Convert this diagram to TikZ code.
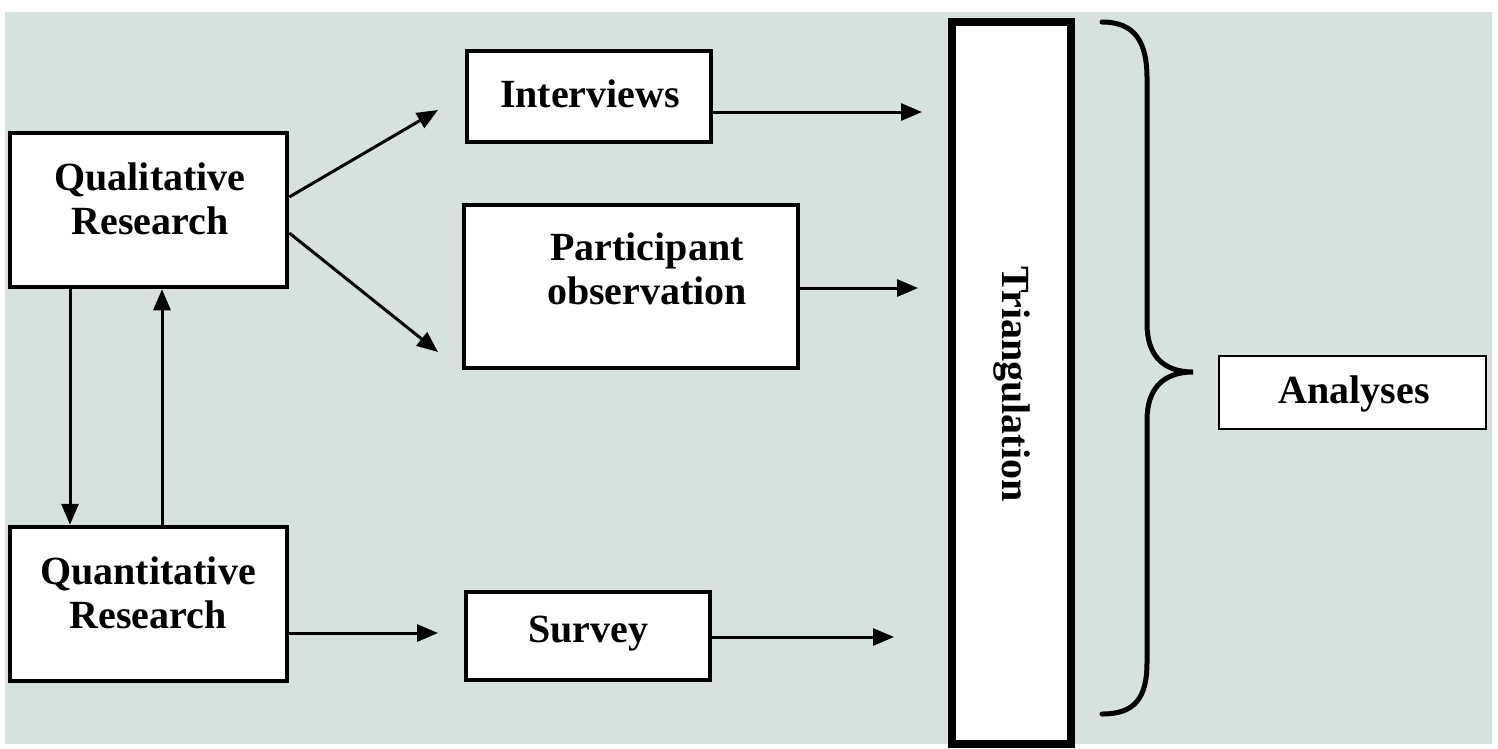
\documentclass[tikz,border=0pt]{standalone}
\usepackage{fontspec}
\setmainfont{Liberation Serif}
\usetikzlibrary{arrows.meta,calc}
\definecolor{bgc}{RGB}{214,227,221}
\begin{document}
\begin{tikzpicture}[x=1pt,y=-1pt,
  box/.style={draw=black,fill=white,rectangle,inner sep=0pt,line width=4.5pt},
  lbl/.style={font=\fontsize{40}{44}\selectfont\bfseries,align=center,inner sep=0pt},
  arr/.style={line width=3pt,-{Triangle[length=21pt,width=17pt]}}]
\useasboundingbox (0,0) rectangle (1498,748);
\fill[white] (0,0) rectangle (1498,748);
\fill[bgc] (5,12) rectangle (1492,744);
% boxes
\node[box,minimum width=277pt,minimum height=154pt] (qual) at (148.5,210) {};
\node[box,minimum width=277pt,minimum height=154pt] (quant) at (148.5,604) {};
\node[box,minimum width=244pt,minimum height=91pt] (intv) at (589,96.5) {};
\node[box,minimum width=334pt,minimum height=163pt] (part) at (631,286.5) {};
\node[box,minimum width=244pt,minimum height=88pt] (surv) at (588,636) {};
\node[box,line width=8pt,minimum width=119pt,minimum height=722pt] (tri) at (1011.5,383) {};
\node[box,line width=2.5pt,minimum width=267pt,minimum height=73pt] (ana) at (1352.5,392.5) {};
% texts
\node[lbl] (qualt) at (150,199) {Qualitative\\Research};
\node[lbl] (quantt) at (148,593) {Quantitative\\Research};
\node[lbl] (intvt) at (590,94) {Interviews};
\node[lbl] (partt) at (647,269) {Participant\\observation};
\node[lbl] (survt) at (588,634) {Survey};
\node[lbl] (anat) at (1354,394) {Analyses};
\node[lbl,rotate=-90] (trit) at (1012,384) {Triangulation};
% free ends
\coordinate (a1) at (438,110);
\coordinate (a2) at (438,352);
\coordinate (t1) at (922,112);
\coordinate (t2) at (918,288);
\coordinate (s1) at (438,633);
\coordinate (s2) at (894,637);
\coordinate (dx) at (70,0);
\coordinate (ux) at (162,0);
% connectors
\draw[arr] ([yshift=13pt]qual.east) -- (a1);
\draw[arr] ([yshift=-23pt]qual.east) -- (a2);
\draw[arr] (intv.east |- t1) -- (t1);
\draw[arr] (part.east |- t2) -- (t2);
\draw[arr] (quant.east |- s1) -- (s1);
\draw[arr] (surv.east |- s2) -- (s2);
\draw[arr] (qual.south -| dx) -- (quant.north -| dx);
\draw[arr] (quant.north -| ux) -- (qual.south -| ux);
% brace
\draw[line width=5pt,line cap=round] (1102,22) .. controls (1135,22) and (1147,42) .. (1147,78)
  -- (1147,324) .. controls (1147,354) and (1162,372) .. (1193,372)
  .. controls (1162,372) and (1147,390) .. (1147,420)
  -- (1147,662) .. controls (1147,698) and (1135,714) .. (1102,714);
\end{tikzpicture}
\end{document}
